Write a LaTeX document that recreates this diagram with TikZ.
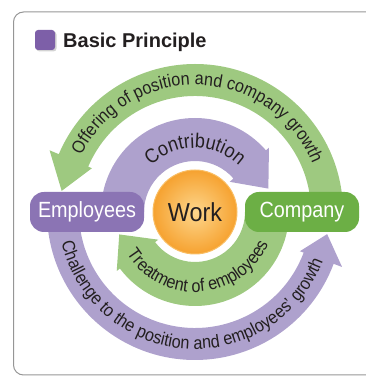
\documentclass[tikz,border=0pt]{standalone}
\usepackage{fontspec}
\setmainfont{Liberation Sans}
\newfontfamily\condfont{Liberation Sans}[FakeStretch=0.9]
\usetikzlibrary{decorations.text,shadows}
\definecolor{greenband}{RGB}{158,201,128}
\definecolor{purpleband}{RGB}{174,161,205}
\definecolor{empcol}{RGB}{139,116,180}
\definecolor{compcol}{RGB}{108,175,69}
\definecolor{worklight}{RGB}{253,214,140}
\definecolor{workdark}{RGB}{246,162,48}
\definecolor{workrim}{RGB}{249,190,100}
\definecolor{titlesq}{RGB}{125,95,168}
\definecolor{txtdark}{RGB}{35,31,32}
\definecolor{framecol}{RGB}{150,150,150}
\newcommand\nodefnt{\condfont\fontsize{22}{24}\selectfont}
\newcommand\workfnt{\condfont\fontsize{26}{28}\selectfont}
\newcommand\arcfnt{\condfont\fontsize{18}{20}\selectfont}
\newcommand\contfnt{\condfont\fontsize{20}{22}\selectfont}
\tikzset{
  pillbox/.style={rounded corners=14pt, minimum width=114pt, minimum height=40pt,
    inner sep=0pt, text=white, font=\nodefnt},
  arctext/.style={decorate, decoration={text along path, text align=center,
    text color=txtdark}}
}
\begin{document}
\begin{tikzpicture}[x=1pt,y=1pt]
\useasboundingbox (0,0) rectangle (366,377);
\clip (0,0) rectangle (366,377);
% frame
\draw[framecol, line width=1pt, rounded corners=10pt] (13.5,2) rectangle (390,365);
% title
\node[fill=titlesq, rounded corners=3pt, minimum size=20pt, inner sep=0pt,
  drop shadow={shadow xshift=1.5pt, shadow yshift=-1.5pt, opacity=0.35}] (sq) at (45,337) {};
\node[anchor=base west, inner sep=0pt, font=\bfseries\fontsize{20}{22}\selectfont, text=txtdark] (title) at (63,329) {Basic Principle};
% rings
\begin{scope}[shift={(195,165)}]
  % outer green (CCW over top)
  \fill[greenband] (0:148) arc[start angle=0,end angle=157,radius=148]
    -- (157:158) -- (171:135) -- (157:112) -- (157:116)
    arc[start angle=157,end angle=0,radius=116] -- cycle;
  % outer purple (CCW along bottom)
  \fill[purpleband] (180:148) arc[start angle=180,end angle=339.5,radius=148]
    -- (339.5:157) -- (350.5:134) -- (339.5:112) -- (339.5:116)
    arc[start angle=339.5,end angle=180,radius=116] -- cycle;
  % inner purple (CW over top)
  \fill[purpleband] (180:94) arc[start angle=180,end angle=41,radius=94]
    -- (41:98) -- (17.7:77) -- (41:46) -- (41:51)
    arc[start angle=41,end angle=180,radius=51] -- cycle;
  % inner green (CW along bottom)
  \fill[greenband] (360:94) arc[start angle=360,end angle=217,radius=94]
    -- (217:98) -- (196.5:79) -- (217:46) -- (217:50)
    arc[start angle=217,end angle=360,radius=50] -- cycle;
  % texts
  \path[arctext, decoration={text={|\arcfnt|Offering of position and company growth}}]
    (160:127) arc[start angle=160,end angle=16,radius=127];
  \path[arctext, decoration={text={|\arcfnt|Challenge to the position and employees’ growth}}]
    (186:137) arc[start angle=186,end angle=346,radius=137];
  \path[arctext, decoration={text={|\contfnt|Contribution}}]
    (150:64) arc[start angle=150,end angle=30,radius=64];
  \path[arctext, decoration={text={|\arcfnt|Treatment of employees}}]
    (200:80) arc[start angle=200,end angle=348,radius=80];
\end{scope}
% nodes
\node[pillbox, fill=empcol] (emp) at (87,165) {Employees};
\node[pillbox, fill=compcol] (comp) at (302,165) {Company};
\node[circle, minimum size=84pt, inner sep=0pt, draw=workrim, line width=1pt,
  inner color=worklight, outer color=workdark, text=txtdark, font=\workfnt] (work) at (195,165) {Work};
\end{tikzpicture}
\end{document}
